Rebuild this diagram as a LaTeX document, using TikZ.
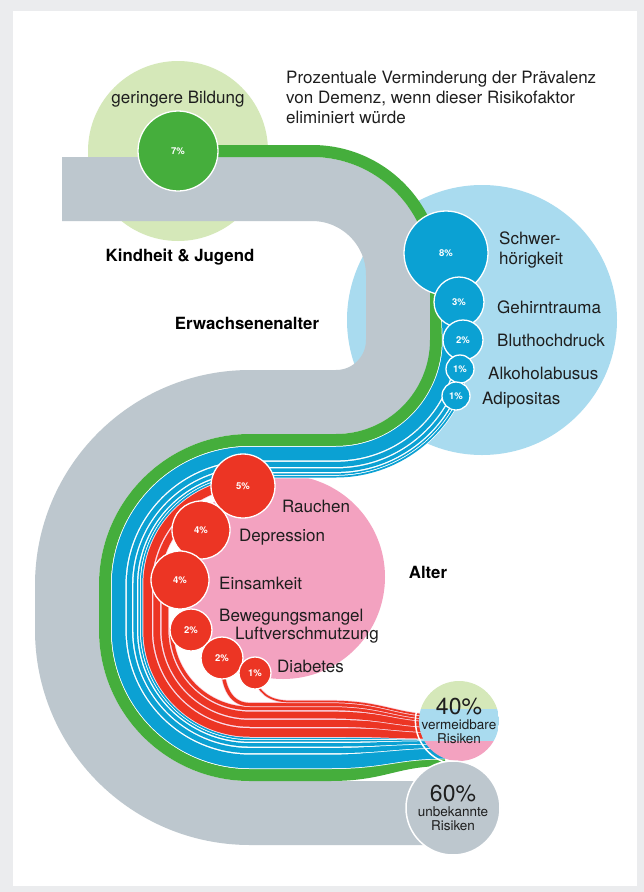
\documentclass[tikz,border=0pt]{standalone}
\usepackage{fontspec}
\setmainfont{TeX Gyre Heros}
\usetikzlibrary{calc}

\definecolor{framegray}{HTML}{EBECEE}
\definecolor{bandgray}{HTML}{BDC7CE}
\definecolor{darkgreen}{HTML}{45AE3C}
\definecolor{palegreen}{HTML}{D5E8B9}
\definecolor{paleblue}{HTML}{A9DBEF}
\definecolor{darkblue}{HTML}{0BA1D3}
\definecolor{rosepink}{HTML}{F3A2C0}
\definecolor{riskred}{HTML}{EC3524}
\definecolor{labeltext}{HTML}{1E1E1E}

\pgfdeclarelayer{back}
\pgfdeclarelayer{flow}
\pgfsetlayers{back,flow,main}

% path pieces shared by all flows (#1 = offset from the green stripe)
\newcommand{\bottomtail}[1]{-- (330,{775-#1}) .. controls (385,{775-#1}) and (395,{760-0.6*#1}) .. ($(vermeid.center)+(-14,{39-0.6*#1})$)}
\newcommand{\lowtail}[1]{-- ({105+#1},630) arc[start angle=180, end angle=90, radius={145-#1}] \bottomtail{#1}}
\newcommand{\flowtail}[1]{-- (250,{440+#1}) arc[start angle=-90, end angle=-180, radius={145-#1}] \lowtail{#1}}
\newcommand{\upperflow}[1]{-- ({436+#1},340) arc[start angle=0, end angle=90, radius={100+#1}] \flowtail{#1}}

\begin{document}
\begin{tikzpicture}[x=1pt, y=-1pt,
  band/.style={bandgray, line width=64pt},
  bluestrand/.style={draw=white, line width=0.75pt, double=darkblue},
  redstrand/.style={draw=rosepink!45!white, line width=0.75pt, double=riskred},
  factor/.style={circle, draw=white, line width=1.3pt, inner sep=0pt, text=white,
                 font=\fontsize{9.5}{10}\selectfont\bfseries},
  lab/.style={anchor=west, inner sep=0pt, text=labeltext, font=\fontsize{17}{20}\selectfont},
  stage/.style={inner sep=0pt, text=black, font=\fontsize{16.8}{20}\selectfont\bfseries},
  risk/.style={circle, draw=white, line width=1.5pt, inner sep=0pt, align=center, text=labeltext,
               font=\fontsize{13.5}{14}\selectfont}]
  \useasboundingbox (0,0) rectangle (644,892);

  % frame and life stage discs
  \begin{pgfonlayer}{back}
    \fill[framegray] (0,0) rectangle (644,892);
    \fill[white] (13,11) rectangle (637,886);
    \fill[palegreen] (178,151) circle[radius=90];
    \fill[paleblue] (482,320) circle[radius=135];
    \fill[rosepink] (283,577) circle[radius=102];
  \end{pgfonlayer}

  % title
  \node[lab, align=left] (titel) at (286,97)
    {Prozentuale Verminderung der Prävalenz\\von Demenz, wenn dieser Risikofaktor\\eliminiert würde};

  % stages
  \node[stage] (kindheit) at (180,257) {Kindheit \& Jugend};
  \node[stage] (erwachsen) at (247,323) {Erwachsenenalter};
  \node[stage] (alter) at (428,572) {Alter};

  % risk factors
  \node[factor, fill=darkgreen, minimum size=80pt] (bildung) at (178,151) {7\%};
  \node[lab, anchor=center] (bildunglab) at (178,99) {geringere Bildung};

  \node[factor, fill=darkblue, minimum size=84pt] (hoer) at (446,253) {8\%};
  \node[factor, fill=darkblue, minimum size=50pt] (trauma) at (459,302) {3\%};
  \node[factor, fill=darkblue, minimum size=40pt] (druck) at (463,340) {2\%};
  \node[factor, fill=darkblue, minimum size=28pt] (alkohol) at (460,369) {1\%};
  \node[factor, fill=darkblue, minimum size=28pt] (adipos) at (456,396) {1\%};
  \node[lab, align=left] (hoerlab) at (499,250) {Schwer-\\hörigkeit};
  \node[lab] (traumalab) at (497,307) {Gehirntrauma};
  \node[lab] (drucklab) at (497,340) {Bluthochdruck};
  \node[lab] (alkohollab) at (488,373) {Alkoholabusus};
  \node[lab] (adiposlab) at (482,400) {Adipositas};

  \node[factor, fill=riskred, minimum size=64pt] (rauch) at (243,486) {5\%};
  \node[factor, fill=riskred, minimum size=58pt] (depr) at (201,530) {4\%};
  \node[factor, fill=riskred, minimum size=58pt] (einsam) at (180,580) {4\%};
  \node[factor, fill=riskred, minimum size=42pt] (beweg) at (191,630) {2\%};
  \node[factor, fill=riskred, minimum size=42pt] (luft) at (222,658) {2\%};
  \node[factor, fill=riskred, minimum size=32pt] (diab) at (255,673) {1\%};
  \node[lab] (rauchlab) at (282,506) {Rauchen};
  \node[lab] (deprlab) at (239,537) {Depression};
  \node[lab] (einsamlab) at (219,583) {Einsamkeit};
  \node[lab] (beweglab) at (219,617) {Bewegungsmangel};
  \node[lab] (luftlab) at (235,635) {Luftverschmutzung};
  \node[lab] (diablab) at (277,666) {Diabetes};

  % totals
  \begin{scope}
    \clip (459,721) circle[radius=40];
    \fill[palegreen] (419,681) rectangle (499,709);
    \fill[paleblue] (419,709) rectangle (499,741);
    \fill[rosepink] (419,741) rectangle (499,761);
  \end{scope}
  \node[risk, minimum size=80pt] (vermeid) at (459,721)
    {{\fontsize{23}{23}\selectfont 40\%}\\[1pt]vermeidbare\\Risiken};
  \node[risk, fill=bandgray, minimum size=94pt] (unbek) at (453,808)
    {{\fontsize{23}{23}\selectfont 60\%}\\[1pt]unbekannte\\Risiken};

  \begin{pgfonlayer}{flow}
    % grey life course band
    \draw[band] (62,189) -- (312,189) arc[start angle=-90, end angle=0, radius=86]
      -- (398,340) arc[start angle=0, end angle=90, radius=62]
      -- (250,402) arc[start angle=-90, end angle=-180, radius=183]
      -- (67,630) arc[start angle=180, end angle=90, radius=183] -- (430,813);

    % education stripe
    \draw[darkgreen, line width=12pt] (bildung.center) -- (312,151)
      arc[start angle=-90, end angle=0, radius=124] \upperflow{0};

    % midlife strands
    \draw[bluestrand, double distance=13.6pt] (hoer.center) \upperflow{13.55};
    \draw[bluestrand, double distance=5.1pt] (trauma.center) \upperflow{24.4};
    \draw[bluestrand, double distance=3.4pt] (druck.center) \upperflow{30.15};
    \draw[bluestrand, double distance=1.7pt] (alkohol.center) -- ([shift={(336,340)}]13.2:134.2)
      arc[start angle=13.2, end angle=90, radius=134.2] \flowtail{34.2};
    \draw[bluestrand, double distance=1.7pt] (adipos.center) -- ([shift={(336,340)}]25:136.65)
      arc[start angle=25, end angle=90, radius=136.65] \flowtail{36.65};

    % late life strands
    \draw[redstrand, double distance=8.5pt] (rauch.center) -- ([shift={(250,585)}]-94:102.5)
      arc[start angle=-94, end angle=-180, radius=102.5] \lowtail{42.5};
    \draw[redstrand, double distance=6.8pt] (depr.center) -- ([shift={(250,585)}]-131.7:93.35)
      arc[start angle=-131.7, end angle=-180, radius=93.35] \lowtail{51.65};
    \draw[redstrand, double distance=6.8pt] (einsam.center) -- ([shift={(250,585)}]-176:85.05)
      arc[start angle=-176, end angle=-180, radius=85.05] \lowtail{59.95};
    \draw[redstrand, double distance=3.4pt] (beweg.center) \lowtail{66.55};
    \draw[redstrand, double distance=3.4pt] (luft.center) .. controls (222,690) and (232,704.55)
      .. (250,704.55) \bottomtail{70.45};
    \draw[redstrand, double distance=1.7pt] (diab.center) .. controls (256,693) and (270,701.5)
      .. (290,701.5) \bottomtail{73.5};
  \end{pgfonlayer}
\end{tikzpicture}
\end{document}
